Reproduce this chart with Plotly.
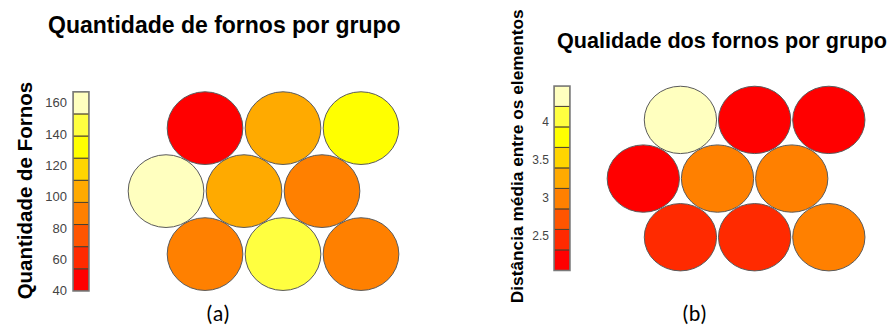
import math
import plotly.graph_objects as go

# SOM units, listed bottom row first (3 x 3 hexagonal grid)
grid_cols = 3
grid_rows = 3

# Number of furnaces mapped to each unit
forn_count = [88, 146, 92,
              167, 103, 90,
              40, 104, 131]

# Mean distance between the elements of each unit
mean_dist = [2.45, 2.42, 3.03,
             2.04, 3.00, 2.97,
             4.47, 2.12, 2.18]

count_ticks = [40, 60, 80, 100, 120, 140, 160]
dist_ticks = [2.5, 3, 3.5, 4]
dist_tick_text = ["2.5", "3", "3.5", "4"]

# R heat.colors(9)
heat9 = ["#FF0000", "#FF2A00", "#FF5500", "#FF8000", "#FFAA00",
         "#FFD500", "#FFFF00", "#FFFF40", "#FFFFBF"]

W, H = 889, 336
FONT = "Liberation Sans, Arial, sans-serif"


def bin_edges(values, n=9):
    lo, hi = min(values), max(values)
    step = (hi - lo) / n
    return [lo + i * step for i in range(n + 1)]


def colour_of(v, values, n=9):
    lo, hi = min(values), max(values)
    k = int((v - lo) / (hi - lo) * n)
    return heat9[min(max(k, 0), n - 1)]


def unit_xy(i):
    row = i // grid_cols
    col = i % grid_cols
    # rows 0 and 2 sit half a unit to the right of row 1
    x = col + (0.5 if row % 2 == 0 else 0.0)
    y = row * math.sqrt(3) / 2
    return x, y


def px_dom(a, b):
    return [a / W, b / W]


def py_dom(top, bottom):
    return [1 - bottom / H, 1 - top / H]


fig = go.Figure()
shapes = []


def add_map(values, xa, ya, rx, ry):
    for i, v in enumerate(values):
        cx, cy = unit_xy(i)
        shapes.append(dict(type="circle", xref=xa, yref=ya,
                           x0=cx - rx, x1=cx + rx, y0=cy - ry, y1=cy + ry,
                           fillcolor=colour_of(v, values),
                           line=dict(color="#5a5a5a", width=1), layer="above"))
    xs = [unit_xy(i)[0] for i in range(len(values))]
    ys = [unit_xy(i)[1] for i in range(len(values))]
    fig.add_trace(go.Scatter(x=xs, y=ys, mode="markers", marker=dict(opacity=0),
                             text=[str(v) for v in values], hoverinfo="text",
                             xaxis=xa, yaxis=ya, showlegend=False))


def add_bar(values, xa, ya):
    edges = bin_edges(values)
    n = len(edges) - 1
    fig.add_trace(go.Bar(x=[0] * n, y=[edges[k + 1] - edges[k] for k in range(n)],
                         base=edges[:-1], width=1,
                         marker=dict(color=heat9, line=dict(color="#4a4030", width=1)),
                         xaxis=xa, yaxis=ya, showlegend=False, hoverinfo="skip"))
    # grey frame around the colour key
    shapes.append(dict(type="rect", xref=xa + " domain", yref=ya + " domain",
                       x0=0, x1=1, y0=0, y1=1,
                       line=dict(color="#7a7a7a", width=1.5), layer="above"))
    return edges


add_map(forn_count, "x", "y", 0.485, 0.5)
add_map(mean_dist, "x2", "y2", 0.487, 0.497)
e1 = add_bar(forn_count, "x3", "y3")
e2 = add_bar(mean_dist, "x4", "y4")

hidden = dict(visible=False, showgrid=False, zeroline=False)

fig.update_layout(
    width=W, height=H,
    margin=dict(l=0, r=0, t=0, b=0),
    paper_bgcolor="white", plot_bgcolor="rgba(0,0,0,0)",
    barmode="overlay",
    shapes=shapes,
    xaxis=dict(hidden, domain=px_dom(120, 410), range=[-0.590, 3.128]),
    yaxis=dict(hidden, domain=py_dom(85, 305), range=[-0.600, 2.353]),
    xaxis2=dict(hidden, domain=px_dom(595, 885), range=[-0.651, 3.257]),
    yaxis2=dict(hidden, domain=py_dom(80, 300), range=[-0.821, 2.349]),
    xaxis3=dict(hidden, domain=px_dom(73, 89), range=[-0.5, 0.5]),
    yaxis3=dict(domain=py_dom(94, 298), range=[e1[0], e1[-1]], anchor="x3",
                showgrid=False, zeroline=False, showline=False, ticks="",
                tickvals=count_ticks, ticklabelstandoff=5,
                tickfont=dict(family=FONT, size=13, color="#444444")),
    xaxis4=dict(hidden, domain=px_dom(554, 570), range=[-0.5, 0.5]),
    yaxis4=dict(domain=py_dom(88, 277), range=[e2[0], e2[-1]], anchor="x4",
                showgrid=False, zeroline=False, showline=False, ticks="",
                tickvals=dist_ticks, ticktext=dist_tick_text, ticklabelstandoff=4,
                tickfont=dict(family=FONT, size=12, color="#444444")),
)

ann = [
    dict(text="<b>Quantidade de fornos por grupo</b>", x=224.5, y=25.5, size=23),
    dict(text="<b>Qualidade dos fornos por grupo</b>", x=721.7, y=41.6, size=21.6),
    dict(text="<b>Quantidade de Fornos</b>", x=24, y=195, size=20.5, angle=-90),
    dict(text="<b>Distância média entre os elementos</b>", x=517, y=160, size=17.3, angle=-90),
    dict(text="(a)", x=218, y=321, size=22, family="Carlito, Lato, sans-serif"),
    dict(text="(b)", x=694, y=321, size=22, family="Carlito, Lato, sans-serif"),
]
for a in ann:
    fig.add_annotation(text=a["text"], xref="paper", yref="paper",
                       x=a["x"] / W, y=1 - a["y"] / H,
                       xanchor="center", yanchor="middle", showarrow=False,
                       textangle=a.get("angle", 0),
                       font=dict(family=a.get("family", FONT), size=a["size"], color="black"))

fig.write_html("out.html")
